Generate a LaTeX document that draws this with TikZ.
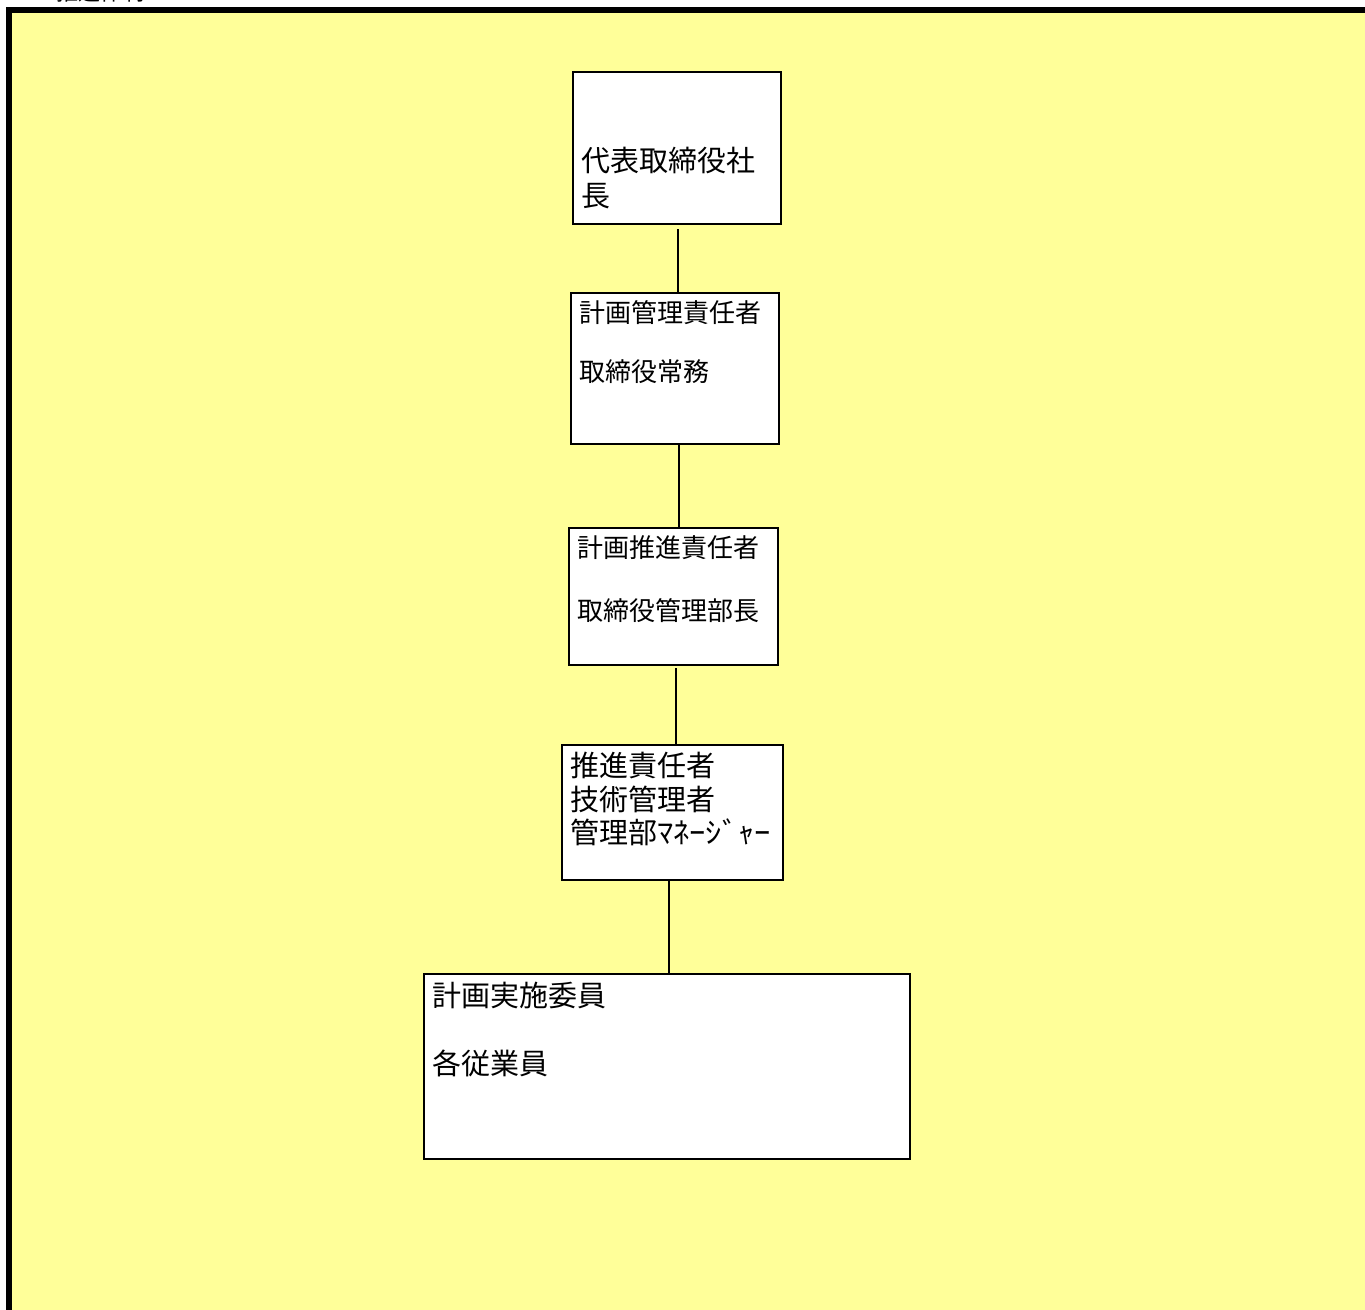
\documentclass[tikz,border=0pt]{standalone}
\usepackage{fontspec}
\newfontfamily\jp{Noto Sans CJK JP}
\newfontfamily\jpwide[FakeStretch=1.12]{Noto Sans CJK JP}
\definecolor{paper}{HTML}{FFFF99}
\tikzset{
  orgbox/.style={draw=black, line width=1.6pt, fill=white},
  boxtext/.style={anchor=north west, inner sep=0pt, align=left, font=\jp},
  link/.style={draw=black, line width=1.6pt}
}
\begin{document}
\begin{tikzpicture}[x=1pt,y=-1pt]
\useasboundingbox (0,0) rectangle (1365,1309);
\fill[white] (0,0) rectangle (1365,1309);
% title, cut off at the top as in the reference
\node[anchor=west, inner sep=0pt, font=\jp\fontsize{22}{26}\selectfont] (title) at (22,-8) {1\quad 推進体制};
% frame
\draw[line width=6pt, fill=paper] (9,10) rectangle (1420,1360);
% boxes
\draw[orgbox] (573,72) rectangle (781,224);
\draw[orgbox] (571,293) rectangle (779,444);
\draw[orgbox] (569,528) rectangle (778,665);
\draw[orgbox] (562,745) rectangle (783,880);
\draw[orgbox] (424,974) rectangle (910,1159);
\coordinate (b1s) at (678,229);
\coordinate (b2n) at (678,293);
\coordinate (b2s) at (679,444);
\coordinate (b3n) at (679,528);
\coordinate (b3s) at (676,668);
\coordinate (b4n) at (676,745);
\coordinate (b4s) at (669,880);
\coordinate (b5n) at (669,974);
\draw[link] (b1s) -- (b2n);
\draw[link] (b2s) -- (b3n);
\draw[link] (b3s) -- (b4n);
\draw[link] (b4s) -- (b5n);
% texts
\node[boxtext, font=\jp\fontsize{29}{35}\selectfont] (t1) at (581,147) {代表取締役社\\長};
\node[boxtext, font=\jp\fontsize{26}{29.5}\selectfont] (t2) at (579,300) {計画管理責任者\\[29.5pt]取締役常務};
\node[boxtext, font=\jp\fontsize{26}{31.5}\selectfont] (t3) at (577,535) {計画推進責任者\\[31.5pt]取締役管理部長};
\node[boxtext, font=\jp\fontsize{29}{33.5}\selectfont] (t4) at (570,752) {推進責任者\\技術管理者\\管理部{\jpwide ﾏﾈｰｼﾞｬｰ}};
\node[boxtext, font=\jp\fontsize{29}{34}\selectfont] (t5) at (432,982) {計画実施委員\\[34pt]各従業員};
\end{tikzpicture}
\end{document}
